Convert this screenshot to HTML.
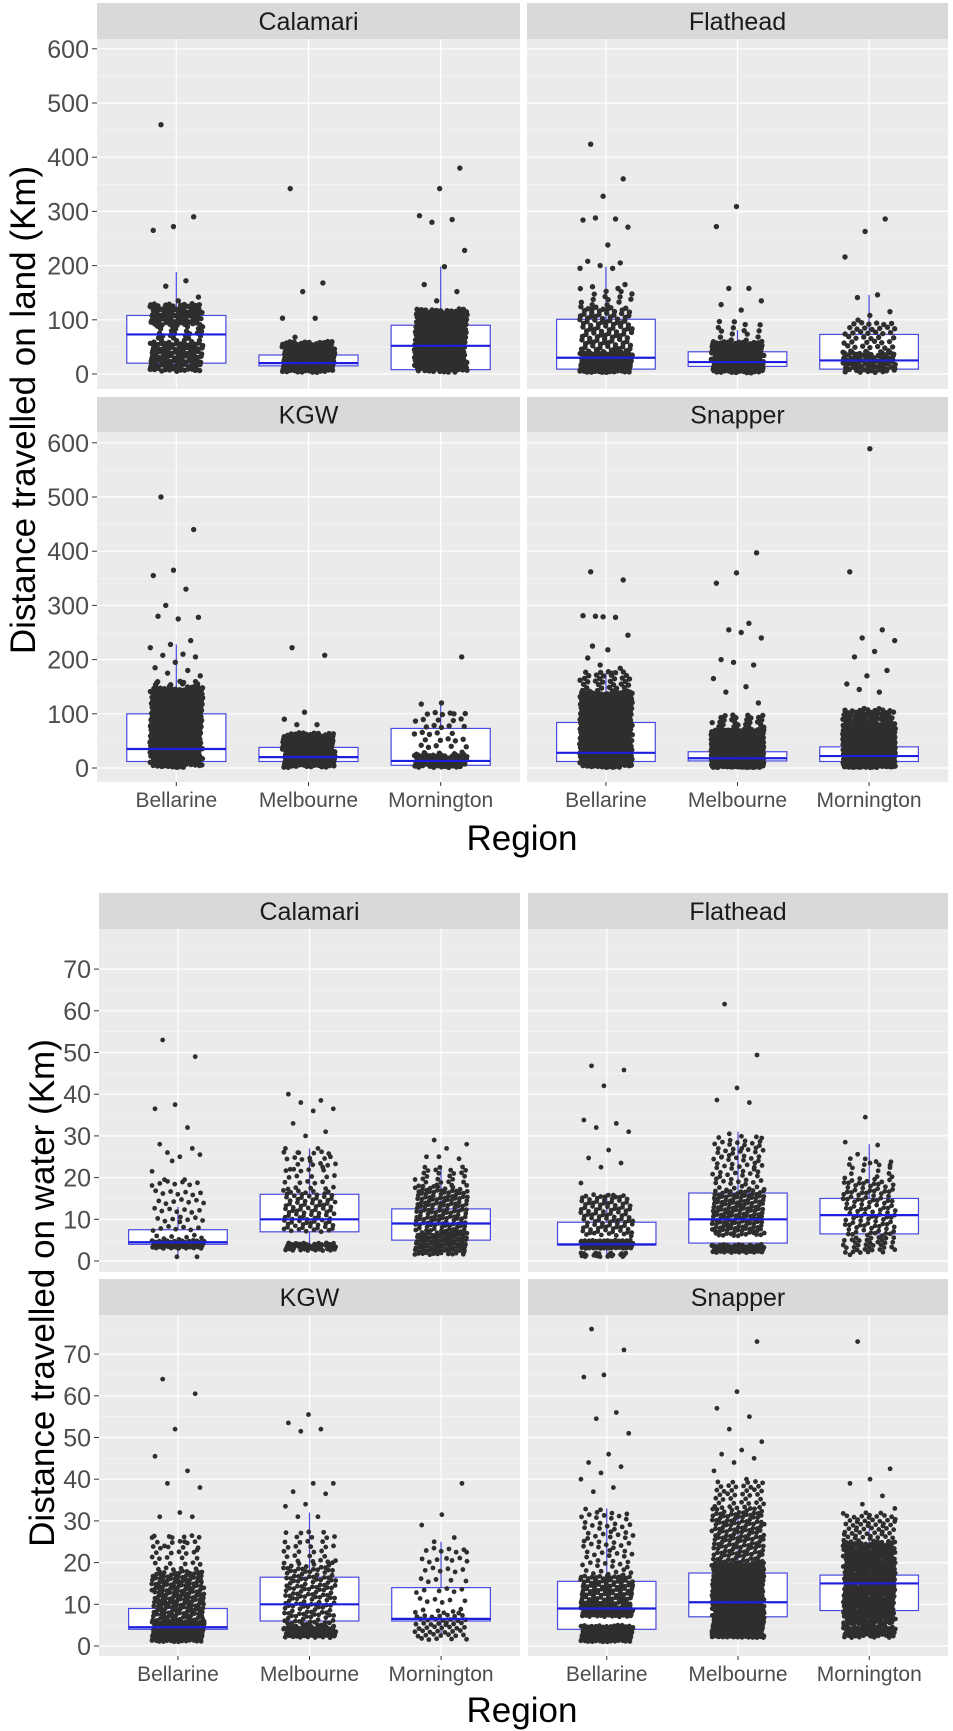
<!DOCTYPE html>
<html><head><meta charset="utf-8"><style>
html,body{margin:0;padding:0;background:#fff;}
svg{display:block;font-family:"Liberation Sans",Arial,sans-serif;}
</style></head>
<body>
<svg id="chart" width="953" height="1731" viewBox="0 0 953 1731" xmlns="http://www.w3.org/2000/svg"></svg>
<script>
const regions = ["Bellarine","Melbourne","Mornington"];
const species = ["Calamari","Flathead","KGW","Snapper"];
const landTicks = [0,100,200,300,400,500,600];
const waterTicks = [0,10,20,30,40,50,60,70];

// box stats: [lowerWhisker, q1, median, q3, upperWhisker] per region
const landCalamariBox = [[5,20,73,108,188],[3,15,20,35,60],[3,8,52,90,198]];
const landCalamariOut = [[0,460],[0,290],[0,272],[0,265],[0,172],[0,162],[0,142],[0,135],[1,342],[1,168],[1,152],[1,103],[1,103],[1,68],[2,380],[2,342],[2,292],[2,285],[2,280],[2,228],[2,198],[2,165],[2,152],[2,135]];
const landCalamariBands = [[0,5,60,130],[0,60,90,25],[0,90,130,90],[1,3,60,160],[2,3,120,280]];

const landFlatheadBox = [[3,9,30,101,198],[2,14,22,41,81],[3,9,25,73,146]];
const landFlatheadOut = [[0,424],[0,360],[0,328],[0,284],[0,286],[0,288],[0,271],[0,238],[0,208],[0,205],[0,200],[0,195],[0,195],[0,161],[0,165],[1,309],[1,272],[1,158],[1,158],[1,135],[1,118],[1,128],[2,286],[2,263],[2,216],[2,146],[2,141],[2,115],[2,108]];
const landFlatheadBands = [[0,3,40,150],[0,40,125,100],[0,125,160,15],[1,2,60,170],[1,60,100,15],[2,3,40,80],[2,40,100,45]];

const landKGWBox = [[1,12,35,100,228],[1,12,20,38,60],[1,5,13,73,120]];
const landKGWOut = [[0,500],[0,440],[0,365],[0,355],[0,330],[0,300],[0,278],[0,275],[0,280],[0,235],[0,228],[0,222],[0,210],[0,208],[0,205],[0,195],[0,185],[0,180],[0,175],[0,170],[0,160],[1,222],[1,208],[1,103],[1,90],[1,80],[1,80],[2,205],[2,120],[2,118],[2,100]];
const landKGWBands = [[0,1,150,380],[0,150,160,10],[1,1,65,170],[2,1,25,80],[2,25,110,35]];

const landSnapperBox = [[1,12,28,84,175],[1,13,18,30,75],[1,12,22,39,107]];
const landSnapperOut = [[0,362],[0,347],[0,279],[0,281],[0,278],[0,280],[0,245],[0,218],[0,203],[0,184],[0,190],[0,162],[0,175],[0,225],[1,397],[1,360],[1,341],[1,267],[1,255],[1,240],[1,250],[1,200],[1,190],[1,195],[1,165],[1,150],[1,140],[1,120],[2,589],[2,362],[2,255],[2,240],[2,235],[2,215],[2,205],[2,180],[2,170],[2,155],[2,140],[2,145]];
const landSnapperBands = [[0,1,140,520],[0,140,180,35],[1,1,70,650],[1,70,100,30],[2,1,80,600],[2,80,110,50]];

const waterCalamariBox = [[1,4,4.5,7.5,13],[3,7,10,16,27],[2,5,9,12.5,23]];
const waterCalamariOut = [[0,53],[0,49],[0,37.5],[0,36.5],[0,32],[0,26],[0,25.5],[0,25],[0,28],[0,27],[0,24],[0,21.5],[0,19.5],[0,19.5],[0,1],[0,1],[1,40],[1,38.5],[1,38],[1,36.5],[1,36],[1,33],[1,31],[1,30],[1,27],[1,27],[1,26],[1,25],[1,24],[1,22],[1,22.5],[2,29],[2,28],[2,27],[2,25],[2,24.5],[2,25]];
const waterCalamariBands = [[0,3,5,60],[0,5,20,50],[1,2.5,4.5,45],[1,7,17,90],[1,17,27,35],[2,1.5,7,120],[2,7,18,140],[2,18,23,25]];

const waterFlatheadBox = [[1,3.8,4,9.3,16.3],[3,4.3,10,16.3,31],[2,6.5,11,15,28]];
const waterFlatheadOut = [[0,46.8],[0,45.8],[0,42],[0,33.8],[0,33],[0,32],[0,31],[0,26.6],[0,24.7],[0,23.5],[0,22.5],[0,18.7],[0,15.8],[1,61.6],[1,49.4],[1,41.5],[1,38.6],[1,38],[1,30.5],[1,29.5],[1,27],[1,25],[1,22],[2,34.5],[2,28.5],[2,27.8],[2,25.6],[2,23],[2,23.5],[2,1.5]];
const waterFlatheadBands = [[0,1,2,25],[0,3,5,120],[0,6,16,100],[1,2,4,70],[1,6,17,160],[1,17,30,70],[2,2,6,35],[2,6,20,110],[2,20,25,15]];

const waterKGWBox = [[1,4,4.5,9,14],[2,6,10,16.5,32],[2,6,6.5,14,25]];
const waterKGWOut = [[0,64],[0,60.5],[0,52],[0,45.5],[0,42],[0,39],[0,38],[0,32],[0,31],[0,31],[0,26],[0,26],[0,25],[0,24],[0,23],[1,55.5],[1,53.5],[1,52],[1,51.5],[1,39],[1,39],[1,37],[1,36.5],[1,34],[1,33.5],[1,31],[1,31],[2,39],[2,31.5],[2,29],[2,26],[2,25],[2,22.5],[2,21]];
const waterKGWBands = [[0,1,6,180],[0,6,18,180],[0,18,27,35],[1,2,5,70],[1,5,20,140],[1,20,28,30],[2,1.5,8,50],[2,8,25,40]];

const waterSnapperBox = [[1,4,9,15.5,33],[2,7,10.5,17.5,33],[2,8.5,15,17,29.5]];
const waterSnapperOut = [[0,76],[0,71],[0,65],[0,64.5],[0,56],[0,54.5],[0,51],[0,46],[0,44],[0,43],[0,41.5],[0,40],[0,38],[0,37],[1,73],[1,61],[1,57],[1,55],[1,52],[1,49],[1,47],[1,46],[1,45],[1,44],[1,42],[1,40],[2,73],[2,42.5],[2,40],[2,39],[2,36],[2,34],[2,33]];
const waterSnapperBands = [[0,1,5,150],[0,7,10,100],[0,10,17,120],[0,17,33,70],[1,2,7,250],[1,7,20,400],[1,20,33,150],[1,33,40,40],[2,2,5,60],[2,5,25,450],[2,25,32,60]];

const NS = "http://www.w3.org/2000/svg";
const svg = document.getElementById("chart");
function mk(tag, parent, attrs){
  const e = document.createElementNS(NS, tag);
  for (const k in attrs) e.setAttribute(k, attrs[k]);
  parent.appendChild(e);
  return e;
}
function frac(v){ return v - Math.floor(v); }

function drawPanel(o){
  const g = mk("g", svg, {});
  
  
  const unit = (o.x1 - o.x0) / 3.2;
  const cx = i => o.x0 + (0.6 + i) * unit;
  const ys = v => o.zeroY - v * o.k;
  // strip
  const strip = mk("rect", g, {x:o.x0, y:o.sy0, width:o.x1-o.x0, height:o.py0-o.sy0, fill:"#D9D9D9"});
  
  
  const st = mk("text", g, {x:(o.x0+o.x1)/2, y:(o.sy0+o.py0)/2+9, "text-anchor":"middle", "font-size":"25", fill:"#1A1A1A"});
  st.textContent = o.title;
  
  
  // background
  const bg = mk("rect", g, {x:o.x0, y:o.py0, width:o.x1-o.x0, height:o.py1-o.py0, fill:"#EBEBEB"});
  
  
  // grid
  const step = o.ticks[1]-o.ticks[0];
  for (let v = o.ticks[0]-step/2; v <= o.ticks[o.ticks.length-1]+step; v += step){
    const y = ys(v);
    if (y > o.py0 && y < o.py1){
      const ln = mk("line", g, {x1:o.x0, x2:o.x1, y1:y, y2:y, stroke:"#F6F6F6", "stroke-width":"0.6"});
      
      
    }
  }
  o.ticks.forEach(v => {
    const y = ys(v);
    const ln = mk("line", g, {x1:o.x0, x2:o.x1, y1:y, y2:y, stroke:"#FFFFFF", "stroke-width":"1.2"});
    
    
    if (o.showY){
      const tk = mk("line", g, {x1:o.x0-5, x2:o.x0, y1:y, y2:y, stroke:"#333", "stroke-width":"1"});
      
      
      const tl = mk("text", g, {x:o.x0-8, y:y+9, "text-anchor":"end", "font-size":"25", fill:"#4D4D4D"});
      tl.textContent = v;
      
      
    }
  });
  regions.forEach((r,i) => {
    const ln = mk("line", g, {x1:cx(i), x2:cx(i), y1:o.py0, y2:o.py1, stroke:"#FFFFFF", "stroke-width":"1.2"});
    
    
    if (o.showX){
      const tk = mk("line", g, {x1:cx(i), x2:cx(i), y1:o.py1, y2:o.py1+4, stroke:"#333", "stroke-width":"1"});
      
      
      const tl = mk("text", g, {x:cx(i), y:o.py1+25, "text-anchor":"middle", "font-size":"21", fill:"#4D4D4D"});
      tl.textContent = r;
      
      
    }
  });
  // boxes
  const bw = 0.75 * unit;
  const boxCol = "#4A4AE0";
  o.box.forEach((b,i) => {
    const x = cx(i);
    const w1 = mk("line", g, {x1:x, x2:x, y1:ys(b[3]), y2:ys(b[4]), stroke:boxCol, "stroke-width":"1.2"});
    
    
    const w2 = mk("line", g, {x1:x, x2:x, y1:ys(b[1]), y2:ys(b[0]), stroke:boxCol, "stroke-width":"1.2"});
    
    
    const rc = mk("rect", g, {x:x-bw/2, y:ys(b[3]), width:bw, height:Math.max(1, ys(b[1])-ys(b[3])), fill:"#FFFFFF", stroke:boxCol, "stroke-width":"1.2"});
    
    
  });
  // points
  const r = o.r;
  const jw = 0.2 * unit;
  let seed = 0;
  const pts = mk("g", g, {fill:"#2E2E2E"});
  
  
  o.bands.forEach(bd => {
    for (let n = 0; n < bd[3]; n++){
      seed++;
      const fx = frac(0.5 + seed * 0.7548776662);
      const fy = frac(0.37 + n * 0.5698402910 + bd[0]*0.13);
      const v = bd[1] + (bd[2]-bd[1]) * fy;
      const c = mk("circle", pts, {cx:cx(bd[0]) + (fx*2-1)*jw, cy:ys(v), r:r});
      
      
    }
  });
  o.out.forEach((p,n) => {
    const fx = frac(0.21 + n * 0.618034);
    const c = mk("circle", pts, {cx:cx(p[0]) + (fx*2-1)*jw, cy:ys(p[1]), r:r});
    
    
  });
  // medians on top
  o.box.forEach((b,i) => {
    const x = cx(i);
    const md = mk("line", g, {x1:x-bw/2, x2:x+bw/2, y1:ys(b[2]), y2:ys(b[2]), stroke:"#1E1EE0", "stroke-width":"2.2"});
    
    
  });
}

const landSets = [[landCalamariBox,landCalamariOut,landCalamariBands],[landFlatheadBox,landFlatheadOut,landFlatheadBands],[landKGWBox,landKGWOut,landKGWBands],[landSnapperBox,landSnapperOut,landSnapperBands]];
const waterSets = [[waterCalamariBox,waterCalamariOut,waterCalamariBands],[waterFlatheadBox,waterFlatheadOut,waterFlatheadBands],[waterKGWBox,waterKGWOut,waterKGWBands],[waterSnapperBox,waterSnapperOut,waterSnapperBands]];

const landRows = [{sy0:3,py0:39,py1:389,zeroY:374},{sy0:397,py0:432,py1:782,zeroY:768}];
const waterRows = [{sy0:893,py0:929,py1:1272,zeroY:1261},{sy0:1279,py0:1315,py1:1656,zeroY:1646}];
const landCols = [[97,520],[527,948]];
const waterCols = [[99,520],[528,948]];

species.forEach((s,idx) => {
  const row = Math.floor(idx/2), col = idx%2;
  const L = landSets[idx];
  drawPanel(Object.assign({key:'land-'+s.toLowerCase(), title:s, x0:landCols[col][0], x1:landCols[col][1], k:0.542, ticks:landTicks, showY:col===0, showX:row===1, r:2.7, box:L[0], out:L[1], bands:L[2]}, landRows[row]));
  const W = waterSets[idx];
  drawPanel(Object.assign({key:'water-'+s.toLowerCase(), title:s, x0:waterCols[col][0], x1:waterCols[col][1], k:4.17, ticks:waterTicks, showY:col===0, showX:row===1, r:2.4, box:W[0], out:W[1], bands:W[2]}, waterRows[row]));
});

// axis titles
const t1 = mk("text", svg, {x:0, y:0, transform:"translate(35,410) rotate(-90)", "text-anchor":"middle", "font-size":"35", fill:"#000"});
t1.textContent = "Distance travelled on land (Km)";


const t2 = mk("text", svg, {x:0, y:0, transform:"translate(54,1293) rotate(-90)", "text-anchor":"middle", "font-size":"35", fill:"#000"});
t2.textContent = "Distance travelled on water (Km)";


const x1t = mk("text", svg, {x:522, y:850, "text-anchor":"middle", "font-size":"35", fill:"#000"});
x1t.textContent = "Region";


const x2t = mk("text", svg, {x:522, y:1722, "text-anchor":"middle", "font-size":"35", fill:"#000"});
x2t.textContent = "Region";


</script>
</body></html>
